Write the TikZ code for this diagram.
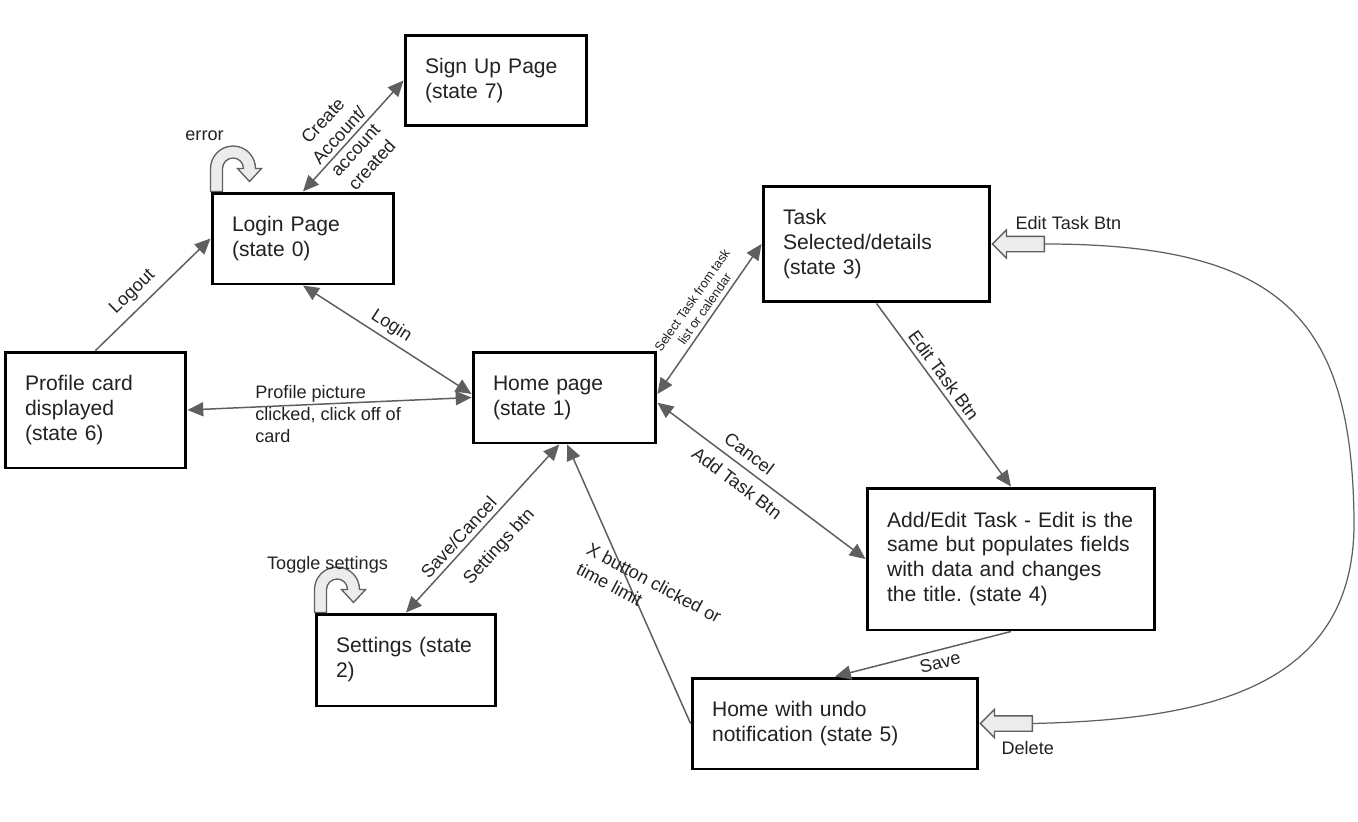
\documentclass[tikz,border=0pt]{standalone}
\usepackage{fontspec}
\setmainfont{Liberation Sans}
\usetikzlibrary{arrows.meta,shapes.arrows}
\definecolor{linegray}{RGB}{95,95,95}
\definecolor{boxfill}{RGB}{236,236,236}
\definecolor{txtgray}{RGB}{34,34,34}
\frenchspacing

\tikzset{
  state/.style={draw=black, line width=1.7pt, fill=white, align=left, text=txtgray,
    inner xsep=0.4cm, inner ysep=2pt, font=\fontsize{12}{14.2}\selectfont},
  trans/.style={draw=linegray, line width=0.85pt, >={Triangle[length=9pt,width=8pt]}},
  lbl/.style={font=\fontsize{10.3}{12.5}\selectfont, text=txtgray, inner sep=1pt},
  smalllbl/.style={font=\fontsize{7.3}{8.6}\selectfont, text=txtgray, inner sep=1pt, align=center},
  loopline/.style={draw=linegray, line width=0.7pt},
  blockarr/.style={single arrow, draw=linegray, fill=boxfill, line width=0.75pt,
    minimum height=1.04cm, inner xsep=0pt, inner ysep=0.14cm,
    single arrow head extend=0.13cm, shape border rotate=180},
  uturn/.pic={
    \draw[draw=linegray, fill=boxfill, line width=0.75pt] (0,0) -- (0,23)
      arc[start angle=180, end angle=0, radius=22.5] -- (51,23) -- (39,10) -- (27,23) -- (33,23)
      arc[start angle=0, end angle=180, radius=10.5] -- (12,0) -- cycle;
  }
}

\begin{document}
\begin{tikzpicture}[x=0.02cm, y=0.02cm]
	\useasboundingbox (0,0) rectangle (1358,-821);

	% states
	\node[state, text width=2.84cm, minimum height=1.82cm] (s7) at (496,-80.5) {Sign Up Page\\(state 7)};
	\node[state, text width=2.84cm, minimum height=1.82cm] (s0) at (303,-238.5) {Login Page\\(state 0)};
	\node[state, text width=2.82cm, minimum height=2.32cm] (s6) at (95.5,-410) {Profile card\\displayed\\(state 6)};
	\node[state, text width=2.86cm, minimum height=1.82cm] (s1) at (564.5,-397.5) {Home page\\(state 1)};
	\node[state, text width=3.74cm, minimum height=2.32cm] (s3) at (876.5,-244) {Task\\Selected/details\\(state 3)};
	\node[state, text width=4.96cm, minimum height=2.84cm] (s4) at (1011,-559) {Add/Edit Task - Edit is the\\same but populates fields\\with data and changes\\the title. (state 4)};
	\node[state, text width=2.80cm, minimum height=1.84cm] (s2) at (406,-660) {Settings~(state\\2)};
	\node[state, text width=4.92cm, minimum height=1.82cm] (s5) at (835,-723.5) {Home with undo\\notification (state 5)};

	% self loops
	\pic at (s0.north west) {uturn};
	\pic at (s2.north west) {uturn};
	\node[lbl] (errlbl) at ([shift={(-6,56)}]s0.north west) {error};
	\node[lbl] (toglbl) at ([shift={(13,48)}]s2.north west) {Toggle settings};

	% transitions
	\draw[trans,<->] (s0.north) -- node[lbl, sloped, pos=0.44, align=center] {Create\\Account/\\account\\created} (s7.west);
	\draw[trans,->] (s6.north) -- node[lbl, sloped, pos=0.42, above=3pt] {Logout} (s0.west);
	\draw[trans,<->] (s0.south) -- node[lbl, sloped, pos=0.48, above=1.5pt] {Login} ([yshift=2pt]s1.west);
	\draw[trans,<->] (s6.east) -- node[lbl, pos=0.23, anchor=west, yshift=-4pt, align=left] {Profile picture\\clicked, click off of\\card} (s1.west);
	\draw[trans,<->] ([yshift=2pt]s1.east) -- node[smalllbl, sloped, pos=0.53, above=1.5pt] {Select Task from task\\list or calendar} (s3.west);
	\draw[trans,->] (s3.south) -- node[lbl, sloped, pos=0.43, above=1.5pt] {Edit Task Btn} (s4.north);
	\draw[trans,<->] ([yshift=-3pt]s1.east) -- node[lbl, sloped, pos=0.40, above=3pt] {Cancel}
		node[lbl, sloped, pos=0.43, below=4pt] {Add Task Btn} (s4.west);
	\draw[trans,->] (s4.south) -- node[lbl, sloped, pos=0.42, below=2pt] {Save} (s5.north);
	\draw[trans,->] (s5.west) -- node[lbl, pos=0.45, xshift=8pt, yshift=3pt, rotate=-28, align=left] {X button clicked or\\time limit} ([xshift=1.5pt]s1.south);
	\draw[trans,<->] (s2.north) -- node[lbl, sloped, pos=0.40, above=1.5pt] {Save/Cancel}
		node[lbl, sloped, pos=0.49, below=8pt] {Settings btn} ([xshift=-3pt]s1.south);

	% edit / delete loop
	\node[blockarr, anchor=tip] (editarr) at (s3.east) {};
	\node[blockarr, anchor=tip] (delarr) at (s5.east) {};
	\node[lbl, anchor=west] (editlbl) at ([shift={(22,21)}]s3.east) {Edit Task Btn};
	\node[lbl, anchor=west] (dellbl) at ([shift={(20,-25)}]s5.east) {Delete};
	\coordinate (bend) at (1354,-520);
	\draw[loopline] (editarr.tail) .. controls +(238,0) and +(-2,200) .. (bend)
		.. controls +(2,-170) and +(170,4) .. (delarr.tail);
\end{tikzpicture}
\end{document}
